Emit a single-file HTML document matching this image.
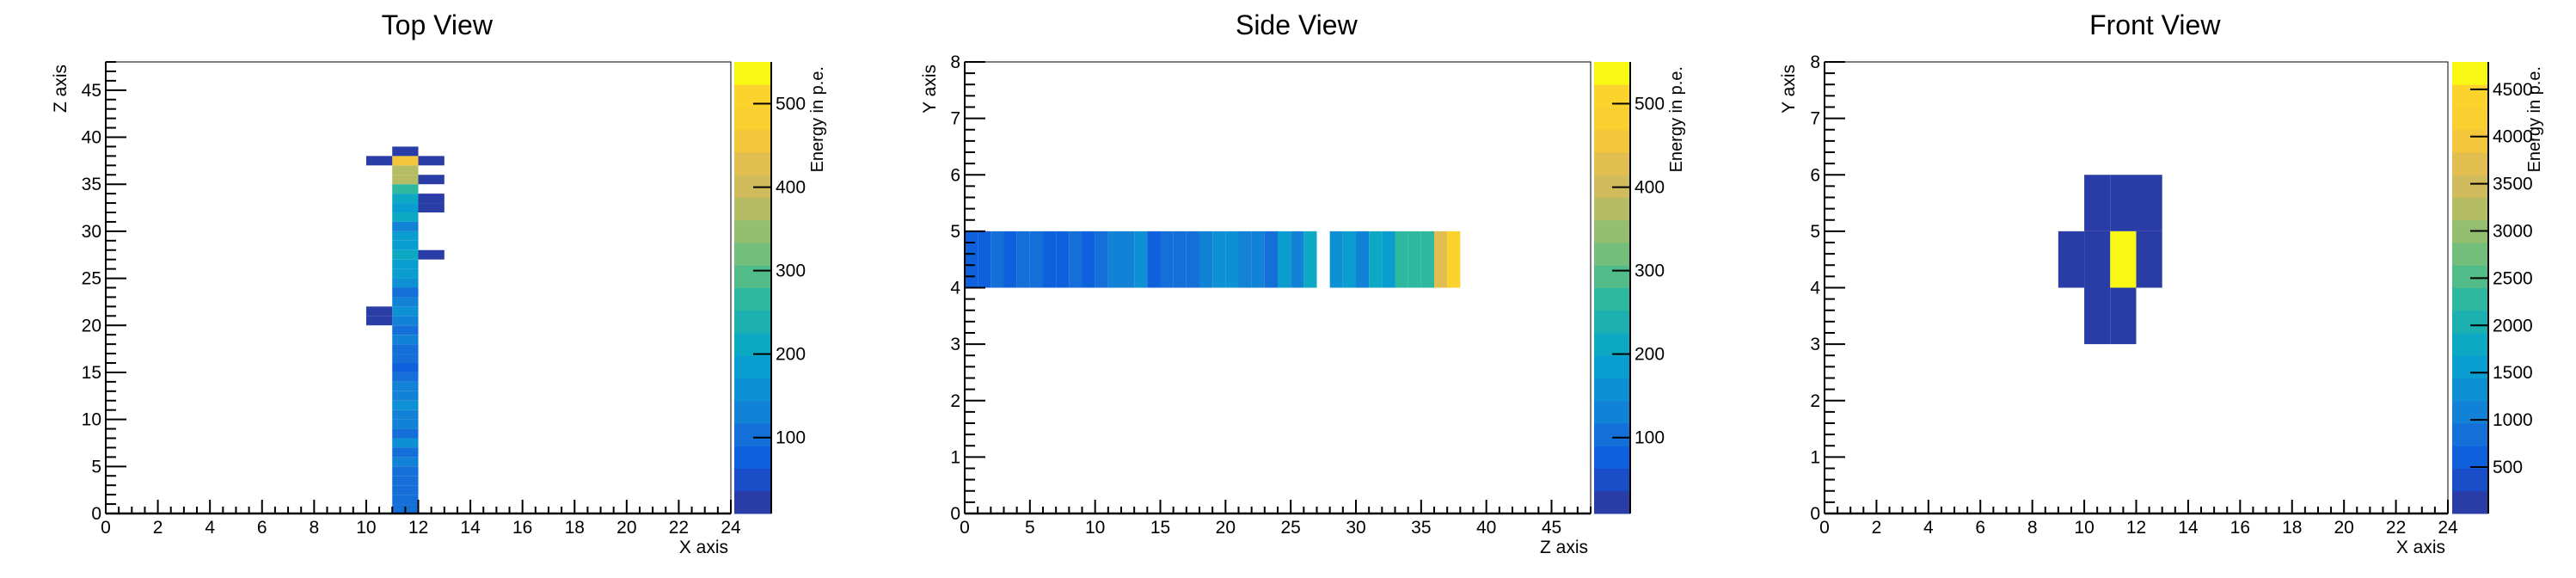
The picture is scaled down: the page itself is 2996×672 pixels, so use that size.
<!DOCTYPE html>
<html><head><meta charset="utf-8"><style>
html,body{margin:0;padding:0;background:#fff;width:2996px;height:672px;overflow:hidden}
svg{display:block}
text{font-family:"Liberation Sans",sans-serif;fill:#000}
</style></head><body>
<svg id="c" width="2996" height="672" viewBox="0 0 2996 672" xmlns="http://www.w3.org/2000/svg"></svg>
<script>
// ---- data ----
const topColX = 11;
const topColE = [105,105,105,105,105,125,105,160,105,130,130,160,130,130,105,80,105,105,130,105,130,160,130,105,160,185,185,210,185,185,130,210,185,210,265,375,375,455,20];
const topExtraX = [10,10,10,12,12,12,12,12];
const topExtraZ = [37,20,21,37,35,32,33,27];
const topExtraE = [20,20,20,20,20,20,20,20];
const sideY = 4;
const sideE = [80,80,105,80,105,105,80,80,105,80,105,130,130,160,80,105,105,105,130,160,160,130,130,105,185,130,210,0,160,185,130,210,185,265,265,265,420,500];
const frontX = [10,11,12,9,10,11,12,10,11];
const frontY = [5,5,5,4,4,4,4,3,3];
const frontE = [60,60,60,60,60,4700,60,60,60];
const zRangeTop = [9,550];
const zRangeFront = [8,4790];
const paletteTicksTop = [100,200,300,400,500];
const paletteTicksFront = [500,1000,1500,2000,2500,3000,3500,4000,4500];
// ---- style ----
const BIRD = ['#2a3ca6','#1a4ec8','#0e60dc','#1470d8','#1282d6','#0e90d4','#0a9ed0','#0ca8c4','#1cb0b0','#2eb8a0','#52bc88','#74be7c','#94be70','#b4bc64','#d0bc5c','#e2be50','#f4c63c','#fad030','#fcd22c','#f8f814'];
const NS='http://www.w3.org/2000/svg';
const svg=document.getElementById('c');
function mk(tag,attrs,parent){const e=document.createElementNS(NS,tag);for(const k in attrs)e.setAttribute(k,attrs[k]);(parent||svg).appendChild(e);return e;}
function txt(s,attrs,parent){const e=mk('text',attrs,parent);e.textContent=s;return e;}
const T=72,B=597;
function colorFor(v,r){let k=Math.floor((v-r[0])/(r[1]-r[0])*20);if(k<0)k=0;if(k>19)k=19;return BIRD[k];}

function panel(o){
  const g=mk('g',{});
  
  
  const sx=v=>o.L+(v-o.xr[0])/(o.xr[1]-o.xr[0])*(o.R-o.L);
  const sy=v=>B-(v-o.yr[0])/(o.yr[1]-o.yr[0])*(B-T);
  const t=txt(o.title,{x:(o.L+o.R)/2+ (o.R-o.L)*0.03,y:40,'font-size':32,'text-anchor':'middle'},g);
  
  
  o.cells.forEach(c=>{
    if(c[2]<=0)return;
    const r=mk('rect',{x:sx(c[0]),y:sy(c[1]+1),width:sx(c[0]+1)-sx(c[0]),height:sy(c[1])-sy(c[1]+1),fill:colorFor(c[2],o.zr)},g);
    
    
  });
  const f=mk('rect',{x:o.L,y:T,width:o.R-o.L,height:B-T,fill:'none',stroke:'#000','stroke-width':1},g);
  
  
  mk('line',{x1:o.L,y1:B,x2:o.R,y2:B,stroke:'#000','stroke-width':2.5},g);
  mk('line',{x1:o.L,y1:T,x2:o.L,y2:B,stroke:'#000','stroke-width':2},g);
  const xa=mk('g',{},g);
  
  
  for(let v=o.xr[0];v<=o.xr[1]+1e-9;v+=o.xmin){
    const maj=Math.abs(v/o.xmaj-Math.round(v/o.xmaj))<1e-6;
    mk('line',{x1:sx(v),y1:B,x2:sx(v),y2:B-(maj?16:8),stroke:'#000','stroke-width':2},xa);
    if(maj){const l=txt(String(Math.round(v)),{x:sx(v),y:620,'font-size':21,'text-anchor':'middle'},xa);
      
      }
  }
  const xt=txt(o.xtitle,{x:o.R-3,y:643,'font-size':21,'text-anchor':'end'},g);
  
  
  const ya=mk('g',{},g);
  
  
  for(let v=o.yr[0];v<=o.yr[1]+1e-9;v+=o.ymin){
    const maj=Math.abs(v/o.ymaj-Math.round(v/o.ymaj))<1e-6;
    mk('line',{x1:o.L,y1:sy(v),x2:o.L+(maj?24:12),y2:sy(v),stroke:'#000','stroke-width':2},ya);
    if(maj){const l=txt(String(Math.round(v)),{x:o.L-5,y:sy(v)+7,'font-size':21,'text-anchor':'end'},ya);
      
      }
  }
  const yt=txt(o.ytitle,{x:0,y:0,'font-size':21,'text-anchor':'end',transform:`translate(${o.ytx},75) rotate(-90)`},g);
  
  
  const pg=mk('g',{},g);
  
  
  const bh=(B-T)/20;
  BIRD.forEach((c,i)=>{mk('rect',{x:o.PL,y:B-(i+1)*bh,width:o.PR-o.PL,height:bh+0.5,fill:c},pg);});
  mk('line',{x1:o.PR,y1:T,x2:o.PR,y2:B,stroke:'#000','stroke-width':2},pg);
  const py=v=>B-(v-o.zr[0])/(o.zr[1]-o.zr[0])*(B-T);
  o.pticks.forEach(v=>{
    mk('line',{x1:o.PR-21,y1:py(v),x2:o.PR,y2:py(v),stroke:'#000','stroke-width':2},pg);
    const l=txt(String(v),{x:o.PR+5,y:py(v)+7,'font-size':21},pg);
    
    
  });
  const pt=txt('Energy in p.e.',{x:0,y:0,'font-size':20,'text-anchor':'end',transform:`translate(${o.PR+60},77) rotate(-90)`},pg);
  
  
}

const topCells=[];
topColE.forEach((e,z)=>topCells.push([topColX,z,e]));
topExtraX.forEach((x,i)=>topCells.push([x,topExtraZ[i],topExtraE[i]]));
const sideCells=sideE.map((e,z)=>[z,sideY,e]);
const frontCells=frontX.map((x,i)=>[x,frontY[i],frontE[i]]);

panel({name:'top-view-panel',title:'Top View',L:123,R:850,PL:854,PR:897,xr:[0,24],yr:[0,48],xmaj:2,xmin:0.5,ymaj:5,ymin:1,zr:zRangeTop,pticks:paletteTicksTop,cells:topCells,xtitle:'X axis',ytitle:'Z axis',ytx:77});
panel({name:'side-view-panel',title:'Side View',L:1122,R:1850,PL:1854,PR:1896,xr:[0,48],yr:[0,8],xmaj:5,xmin:1,ymaj:1,ymin:0.2,zr:zRangeTop,pticks:paletteTicksTop,cells:sideCells,xtitle:'Z axis',ytitle:'Y axis',ytx:1088});
panel({name:'front-view-panel',title:'Front View',L:2122,R:2847,PL:2852,PR:2894,xr:[0,24],yr:[0,8],xmaj:2,xmin:0.5,ymaj:1,ymin:0.2,zr:zRangeFront,pticks:paletteTicksFront,cells:frontCells,xtitle:'X axis',ytitle:'Y axis',ytx:2087});
</script>
</body></html>
